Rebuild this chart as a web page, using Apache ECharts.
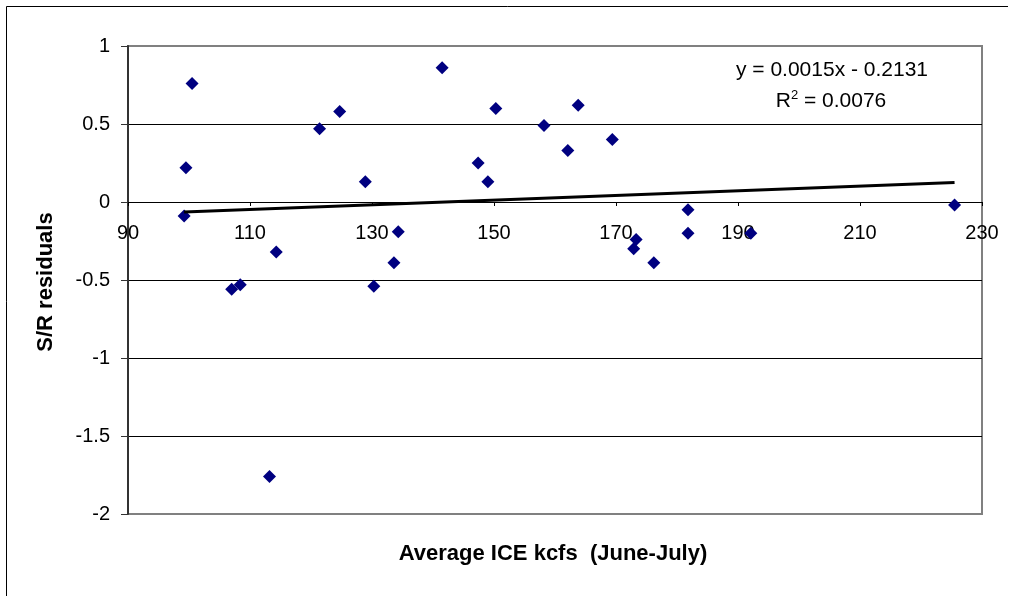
<!DOCTYPE html>
<html>
<head>
<meta charset="utf-8">
<script src="https://cdn.jsdelivr.net/npm/echarts@6/dist/echarts.min.js"></script>
<style>
  html, body { margin: 0; padding: 0; background: #fff; }
  #chart { width: 1013px; height: 596px; }
</style>
</head>
<body>
<div id="chart"></div>
<script>
// Average ICE flow (kcfs, June-July) against S/R residuals
const iceKcfs = [
  99.2, 99.5, 100.5, 107.0, 108.4, 113.2, 114.3, 121.4, 124.7, 128.9,
  130.3, 133.6, 134.3, 141.5, 147.4, 149.0, 150.3, 158.2, 162.1, 163.8,
  169.4, 172.9, 173.3, 176.2, 181.8, 181.8, 192.1, 225.5
];
const srResiduals = [
  -0.09, 0.22, 0.76, -0.56, -0.53, -1.76, -0.32, 0.47, 0.58, 0.13,
  -0.54, -0.39, -0.19, 0.86, 0.25, 0.13, 0.60, 0.49, 0.33, 0.62,
  0.40, -0.30, -0.24, -0.39, -0.05, -0.20, -0.20, -0.02
];

// Linear trend as stated on the chart
const trendSlope = 0.0015;
const trendIntercept = -0.2131;
const trendText = 'y = 0.0015x - 0.2131';
const r2Text = ' = 0.0076';

const xTicks = { min: 90, max: 230, step: 20 };
const yTicks = { min: -2, max: 1, step: 0.5 };

const points = iceKcfs.map((x, i) => [x, srResiduals[i]]);
const xLo = Math.min(...iceKcfs);
const xHi = Math.max(...iceKcfs);
const trendLine = [
  [xLo, trendSlope * xLo + trendIntercept],
  [xHi, trendSlope * xHi + trendIntercept]
];

const FONT = 'Liberation Sans, Arial, sans-serif';

// plot box
const GRID = { left: 128, top: 46, right: 31, bottom: 82 };
const plotHeight = 596 - GRID.top - GRID.bottom;
// the horizontal axis sits on y = 0, so lift it from the bottom edge
const xAxisLift = plotHeight * (0 - yTicks.min) / (yTicks.max - yTicks.min);

const chart = echarts.init(document.getElementById('chart'), null, { renderer: 'canvas' });
chart.setOption({
  animation: false,
  backgroundColor: '#ffffff',
  grid: Object.assign({
    show: true, borderColor: '#808080', borderWidth: 2, backgroundColor: 'transparent'
  }, GRID),
  xAxis: {
    type: 'value',
    position: 'bottom',
    offset: -xAxisLift,
    min: xTicks.min, max: xTicks.max, interval: xTicks.step,
    axisLine: { onZero: false, lineStyle: { color: '#000', width: 1 } },
    axisTick: { show: true, inside: false, length: 4, lineStyle: { color: '#000' } },
    axisLabel: { color: '#000', fontFamily: FONT, fontSize: 20, margin: 21 },
    splitLine: { show: false }
  },
  yAxis: {
    type: 'value',
    min: yTicks.min, max: yTicks.max, interval: yTicks.step,
    axisLine: { show: true, onZero: false, lineStyle: { color: '#333', width: 2 } },
    axisTick: { show: true, inside: false, length: 7, lineStyle: { color: '#333' } },
    axisLabel: { color: '#000', fontFamily: FONT, fontSize: 20, margin: 18 },
    splitLine: { show: true, showMinLine: false, showMaxLine: false, lineStyle: { color: '#000', width: 1 } }
  },
  series: [
    {
      type: 'scatter',
      data: points,
      symbol: 'diamond',
      symbolSize: [13, 13],
      itemStyle: { color: '#000080', opacity: 1 },
      z: 3
    },
    {
      type: 'line',
      data: trendLine,
      symbol: 'none',
      lineStyle: { color: '#000', width: 3 },
      z: 4
    }
  ],
  graphic: [
    {
      type: 'polyline',
      shape: { points: [[6.5, 596], [6.5, 6.5], [1008, 6.5]] },
      style: { stroke: '#000', lineWidth: 1, fill: null },
      silent: true
    },
    {
      type: 'text',
      x: 832, y: 60,
      style: {
        text: trendText,
        font: '21px ' + FONT,
        fill: '#000',
        align: 'center',
        verticalAlign: 'top'
      }
    },
    {
      type: 'text',
      x: 831, y: 89,
      style: {
        text: '{r|R}{s|2}{r|' + r2Text + '}',
        font: '21px ' + FONT,
        fill: '#000',
        align: 'center',
        verticalAlign: 'top',
        rich: {
          r: { fontSize: 21, fontFamily: FONT, color: '#000', verticalAlign: 'bottom' },
          s: { fontSize: 13, fontFamily: FONT, color: '#000', verticalAlign: 'top', padding: [0, 0, 10, 0] }
        }
      }
    },
    {
      type: 'text',
      x: 553, y: 554,
      style: {
        text: 'Average ICE kcfs  (June-July)',
        font: 'bold 22px ' + FONT,
        fill: '#000',
        align: 'center',
        verticalAlign: 'middle'
      }
    },
    {
      type: 'text',
      x: 46, y: 282,
      rotation: Math.PI / 2,
      style: {
        text: 'S/R residuals',
        font: 'bold 22px ' + FONT,
        fill: '#000',
        align: 'center',
        verticalAlign: 'middle'
      }
    }
  ]
});
</script>
</body>
</html>
